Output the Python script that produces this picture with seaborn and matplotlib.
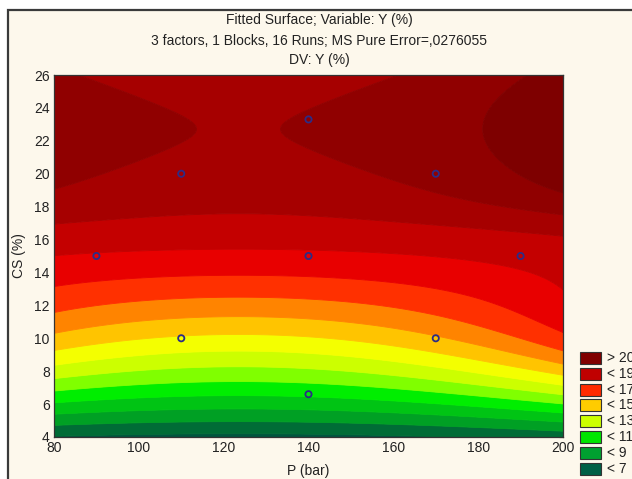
import numpy as np
import matplotlib
matplotlib.use("Agg")
import matplotlib.pyplot as plt
import matplotlib.patches as mpatches
import pandas as pd
import seaborn as sns

# Experimental runs (design points) in natural units
run_P = [110, 140, 170, 90, 140, 190, 110, 170, 140]
run_CS = [20, 23.3, 20, 15, 15, 15, 10, 10, 6.6]

# Fitted response surface, coded units: x1 = (P-140)/30, x2 = (CS-15)/5
#   Y = b0 + b2*x2 + b22*x2^2 + w(x2) * (x1^2 + p_lin*x1)
# the pressure effect w(x2) is strongest at low CS and along the upper ridge
coef_b0 = 17.795
coef_b2 = 2.93
coef_b22 = -0.95
coef_p_lin = 1.1
low_amp, low_center, low_width = 0.46, -1.10, 0.89
top_amp, top_center, top_width = 0.28, 0.50, 0.15

# Contour levels and fill colours (below first level ... above last level)
contour_levels = [7, 8, 9, 10, 11, 12, 13, 14, 15, 16, 17, 18, 19, 20, 21]
band_colors = ["#00553e", "#006c36", "#00a024", "#00c414", "#00ee00",
               "#80ff00", "#ccff00", "#f4ff00", "#ffc400", "#ff8400",
               "#ff3000", "#e80000", "#c40000", "#a60000", "#900000",
               "#7e0000"]

# Legend entries
legend_labels = ["> 20", "< 19", "< 17", "< 15", "< 13", "< 11", "< 9", "< 7"]
legend_colors = ["#800000", "#c00000", "#ff2a00", "#ffcc00", "#ccff00",
                 "#00e600", "#00a030", "#006046"]

x_ticks = [80, 100, 120, 140, 160, 180, 200]
y_ticks = [4, 6, 8, 10, 12, 14, 16, 18, 20, 22, 24, 26]

sns.set_style("white")
plt.rcParams["font.family"] = ["Liberation Sans", "DejaVu Sans"]

W, H = 632, 479
fig = plt.figure(figsize=(W / 100, H / 100), dpi=100, facecolor="white")

# window panel behind the chart
panel = mpatches.Rectangle((8 / W, -0.1), 1.2, (H - 10) / H + 0.1,
                           transform=fig.transFigure, facecolor="#fdf8ec",
                           edgecolor="#3a3a3a", linewidth=1.6, zorder=-10)
fig.patches.append(panel)

ax = fig.add_axes([54 / W, 1 - 437 / H, (563 - 54) / W, (437 - 75) / H])
ax.set_zorder(1)

# evaluate fitted surface on a grid
P = np.linspace(80, 200, 400)
CS = np.linspace(4, 26, 400)
PP, CC = np.meshgrid(P, CS)
x1 = (PP - 140) / 30
x2 = (CC - 15) / 5
w = (low_amp * np.exp(-((x2 - low_center) / low_width) ** 2)
     + top_amp / (1 + np.exp(-(x2 - top_center) / top_width)))
Y = coef_b0 + coef_b2 * x2 + coef_b22 * x2 ** 2 + w * (x1 ** 2 + coef_p_lin * x1)

cs = ax.contourf(PP, CC, Y, levels=contour_levels, colors=band_colors,
                 extend="both", antialiased=True)
cs.set_edgecolor("face")
cs.set_linewidth(0.6)

runs = pd.DataFrame({"P": run_P, "CS": run_CS})
sns.scatterplot(data=runs, x="P", y="CS", ax=ax, marker="o", s=20,
                facecolor="none", edgecolor="#2c2c86", linewidth=1.3,
                zorder=5, legend=False)

ax.set_xlim(80, 200)
ax.set_ylim(4, 26)
ax.set_xticks(x_ticks)
ax.set_yticks(y_ticks)
ax.tick_params(direction="in", length=3, width=0.8, colors="#333333",
               labelcolor="#222222", labelsize=10, top=True, right=True,
               pad=3)
for sp in ax.spines.values():
    sp.set_color("#333333")
    sp.set_linewidth(0.9)
ax.set_xlabel("P (bar)", fontsize=10, color="#222222", labelpad=6)
ax.set_ylabel("CS (%)", fontsize=10, color="#222222", labelpad=6)

# titles
tx = 319 / W
fig.text(tx, 1 - 20 / H, "Fitted Surface; Variable: Y (%)", ha="center",
         va="center", fontsize=10, color="#222222")
fig.text(tx, 1 - 41 / H, "3 factors, 1 Blocks, 16 Runs; MS Pure Error=,0276055",
         ha="center", va="center", fontsize=10, color="#222222")
fig.text(tx, 1 - 60 / H, "DV: Y (%)", ha="center", va="center",
         fontsize=10, color="#222222")

# colour legend
for i, (lab, col) in enumerate(zip(legend_labels, legend_colors)):
    top = 352 + i * 15.8
    rect = mpatches.Rectangle((580 / W, 1 - (top + 12) / H), 21 / W, 12 / H,
                              transform=fig.transFigure, facecolor=col,
                              edgecolor="#333333", linewidth=0.8, zorder=3)
    fig.patches.append(rect)
    fig.text(607 / W, 1 - (top + 6) / H, lab, ha="left", va="center",
             fontsize=10, color="#222222")

fig.savefig("out.png", dpi=100, facecolor="white")
